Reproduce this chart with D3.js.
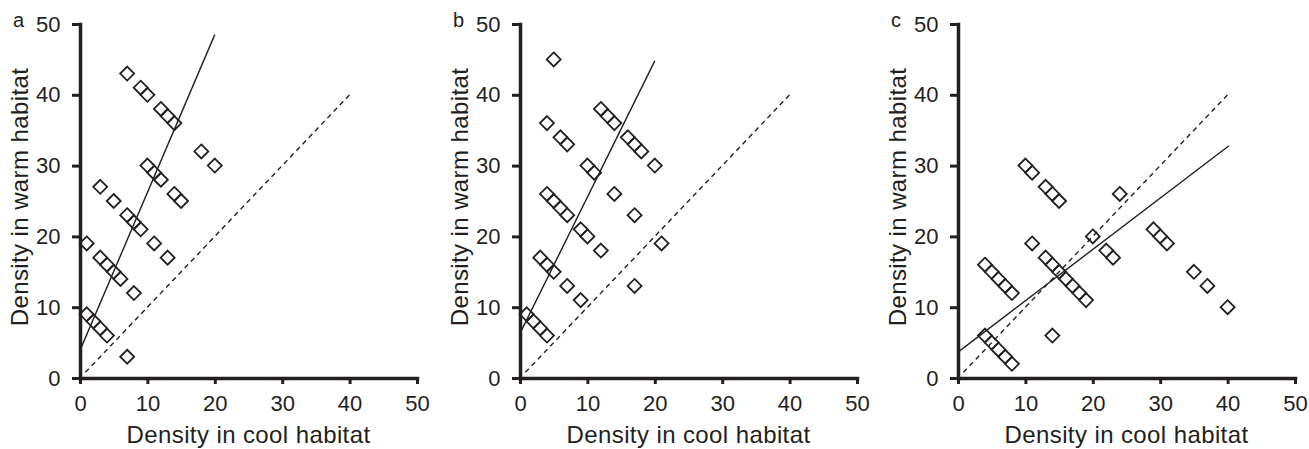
<!DOCTYPE html>
<html>
<head>
<meta charset="utf-8">
<script src="https://cdn.jsdelivr.net/npm/d3@7"></script>
<style>
  body { margin: 0; background: #fff; }
  text { font-family: "Liberation Sans", Arial, sans-serif; fill: #231f20; }
</style>
</head>
<body>
<div id="chart"></div>
<script>

// panel letters
const panelLabels = ["a", "b", "c"];

// density in cool habitat (x) and warm habitat (y) per panel
const coolA = [7, 9, 10, 12, 13, 14, 18, 20, 10, 11, 12, 14, 15, 3, 5, 7, 8, 9, 11, 13, 1, 3, 4, 5, 6, 8, 1, 2, 3, 4, 7];
const warmA = [43, 41, 40, 38, 37, 36, 32, 30, 30, 29, 28, 26, 25, 27, 25, 23, 22, 21, 19, 17, 19, 17, 16, 15, 14, 12, 9, 8, 7, 6, 3];

const coolB = [5, 4, 6, 7, 12, 13, 14, 16, 17, 18, 20, 10, 11, 14, 17, 4, 5, 6, 7, 9, 10, 12, 21, 3, 4, 5, 7, 9, 17, 1, 2, 3, 4];
const warmB = [45, 36, 34, 33, 38, 37, 36, 34, 33, 32, 30, 30, 29, 26, 23, 26, 25, 24, 23, 21, 20, 18, 19, 17, 16, 15, 13, 11, 13, 9, 8, 7, 6];

const coolC = [10, 11, 13, 14, 15, 24, 20, 11, 13, 14, 15, 16, 17, 18, 19, 22, 23, 29, 30, 31, 35, 37, 40, 4, 5, 6, 7, 8, 14, 4, 5, 6, 7, 8];
const warmC = [30, 29, 27, 26, 25, 26, 20, 19, 17, 16, 15, 14, 13, 12, 11, 18, 17, 21, 20, 19, 15, 13, 10, 16, 15, 14, 13, 12, 6, 6, 5, 4, 3, 2];

// fitted lines: y = intercept + slope * x, drawn from x = 0 to xEnd
const fitIntercepts = [3.9, 6.3, 3.66];
const fitSlopes = [2.23, 1.925, 0.725];
const fitXEnd = [20, 20, 40.2];

// 1:1 reference line
const oneToOne = [0.8, 40];

const tickValues = [0, 10, 20, 30, 40, 50];

const xTitle = "Density in cool habitat";
const yTitle = "Density in warm habitat";

const panels = [
  { label: panelLabels[0], cool: coolA, warm: warmA, fit: 0 },
  { label: panelLabels[1], cool: coolB, warm: warmB, fit: 1 },
  { label: panelLabels[2], cool: coolC, warm: warmC, fit: 2 }
];

const W = 1309, H = 449;
const panelLeft = [80, 520, 958];
const plotW = 337;
const plotTop = 24, plotBottom = 378;
const ink = "#231f20";

const svg = d3.select("#chart")
  .append("svg")
  .attr("width", W)
  .attr("height", H);

function drawPanel(p, i) {
  const left = panelLeft[i];
  const x = d3.scaleLinear().domain([0, 50]).range([left, left + plotW]);
  const y = d3.scaleLinear().domain([0, 50]).range([plotBottom, plotTop]);

  const g = svg.append("g");

  // 1:1 dashed line
  g.append("line")
    .attr("x1", x(oneToOne[0])).attr("y1", y(oneToOne[0]))
    .attr("x2", x(oneToOne[1])).attr("y2", y(oneToOne[1]))
    .attr("stroke", ink)
    .attr("stroke-width", 1.4)
    .attr("stroke-dasharray", "5,4");

  // fitted line
  const b0 = fitIntercepts[p.fit], b1 = fitSlopes[p.fit], xe = fitXEnd[p.fit];
  g.append("line")
    .attr("x1", x(0)).attr("y1", y(b0))
    .attr("x2", x(xe)).attr("y2", y(b0 + b1 * xe))
    .attr("stroke", ink)
    .attr("stroke-width", 1.4);

  // open diamonds
  const r = 7;
  const pts = p.cool.map((c, k) => [c, p.warm[k]]);
  g.selectAll(".pt")
    .data(pts)
    .enter()
    .append("path")
    .attr("class", "pt")
    .attr("transform", d => `translate(${x(d[0])},${y(d[1])})`)
    .attr("d", `M0,${-r}L${r},0L0,${r}L${-r},0Z`)
    .attr("fill", "none")
    .attr("stroke", ink)
    .attr("stroke-width", 1.8);

  // axes
  const xAxis = d3.axisBottom(x).tickValues(tickValues).tickSize(6).tickSizeOuter(0).tickPadding(11);
  const yAxis = d3.axisLeft(y).tickValues(tickValues).tickSize(8).tickSizeOuter(0).tickPadding(11.5);

  const gx = g.append("g")
    .attr("transform", `translate(0,${plotBottom})`)
    .call(xAxis);
  const gy = g.append("g")
    .attr("transform", `translate(${left},0)`)
    .call(yAxis);

  [gx, gy].forEach(a => {
    a.select(".domain").attr("stroke", ink).attr("stroke-width", 3.5).attr("stroke-linecap", "square");
    a.selectAll(".tick line").attr("stroke", ink).attr("stroke-width", 3);
    a.selectAll(".tick text")
      .attr("fill", ink)
      .style("font-size", "22px")
      .style("font-family", "'Liberation Sans', Arial, sans-serif");
  });

  // axis titles
  g.append("text")
    .attr("x", (x(0) + x(50)) / 2)
    .attr("y", 443)
    .attr("text-anchor", "middle")
    .style("font-size", "24px")
    .style("letter-spacing", "0.4px")
    .text(xTitle);

  g.append("text")
    .attr("transform", `translate(${left - 52.5},${(plotTop + plotBottom) / 2 - 4}) rotate(-90)`)
    .attr("text-anchor", "middle")
    .style("font-size", "24px")
    .style("letter-spacing", "0.4px")
    .text(yTitle);

  // panel letter
  g.append("text")
    .attr("x", left - 67)
    .attr("y", 26.5)
    .style("font-size", "20px")
    .text(p.label);
}

panels.forEach(drawPanel);

</script>
</body>
</html>
